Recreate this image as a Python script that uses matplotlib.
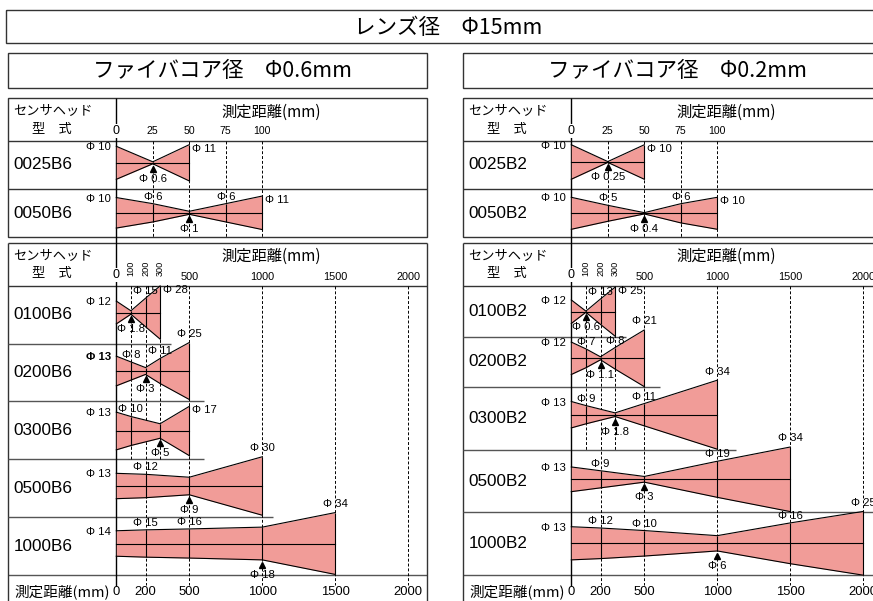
#!/usr/bin/env python3
"""Beam diameter charts for two fiber core sizes (lens diameter 15 mm)."""

import matplotlib

matplotlib.use("Agg")
import matplotlib.pyplot as plt
import numpy as np
from matplotlib.patches import Rectangle
from matplotlib.transforms import offset_copy

W, H = 873, 601
LATIN = ["Liberation Sans", "Noto Sans CJK JP"]
JP = ["Noto Sans CJK JP", "DejaVu Sans"]
PINK = "#f19c98"
BORDER = "#333333"
SPLIT = "#555555"

# ---- data ----
LENS_TITLE = "レンズ径　Φ15mm"
CORE_TITLES = ["ファイバコア径　Φ0.6mm", "ファイバコア径　Φ0.2mm"]
HEAD_LABEL = "センサヘッド"
TYPE_LABEL = "型　式"
DIST_LABEL = "測定距離(mm)"

SHORT_TICKS = [0, 25, 50, 75, 100]
LONG_TICKS = [0, 100, 200, 300, 500, 1000, 1500, 2000]
ROTATED_TICKS = [100, 200, 300]
NEAR_TICKS = [100, 300]
BOTTOM_TICKS = [0, 200, 500, 1000, 1500, 2000]

MODELS_B6 = ["0025B6", "0050B6", "0100B6", "0200B6", "0300B6", "0500B6", "1000B6"]
DIST_B6 = [
    [0, 25, 50],
    [0, 25, 50, 75, 100],
    [0, 100, 200, 300],
    [0, 100, 200, 300, 500],
    [0, 100, 300, 500],
    [0, 200, 500, 1000],
    [0, 200, 500, 1000, 1500],
]
DIAM_B6 = [
    [10, 0.6, 11],
    [10, 6, 1, 6, 11],
    [12, 1.8, 15, 28],
    [13, 8, 3, 11, 25],
    [13, 10, 5, 17],
    [13, 12, 9, 30],
    [14, 15, 16, 18, 34],
]
FOCUS_B6 = [25, 50, 100, 200, 300, 500, 1000]

MODELS_B2 = ["0025B2", "0050B2", "0100B2", "0200B2", "0300B2", "0500B2", "1000B2"]
DIST_B2 = [
    [0, 25, 50],
    [0, 25, 50, 75, 100],
    [0, 100, 200, 300],
    [0, 100, 200, 300, 500],
    [0, 100, 300, 500, 1000],
    [0, 200, 500, 1000, 1500],
    [0, 200, 500, 1000, 1500, 2000],
]
DIAM_B2 = [
    [10, 0.25, 10],
    [10, 5, 0.4, 6, 10],
    [12, 0.6, 13, 25],
    [12, 7, 1.1, 8, 21],
    [13, 9, 1.8, 11, 34],
    [13, 9, 3, 19, 34],
    [13, 12, 10, 6, 16, 25],
]
FOCUS_B2 = [25, 50, 100, 200, 300, 500, 1000]

# ---- layout (pixels) ----
PANEL_X = [8.3, 463.3]
DIVIDER_DX = 108.0
PANEL_W = 418.4
PPM_SHORT = 1.46
PPM_LONG = 0.146
UPPER_TOP, UPPER_HEAD, UPPER_SPLIT, UPPER_BOTTOM = 98.3, 140.7, 189.0, 237.0
LOWER_TOP, LOWER_HEAD, LOWER_BOTTOM = 243.3, 285.7, 575.3
LOWER_SPLITS = [[343.7, 401.0, 459.3, 517.3], [336.7, 387.0, 450.0, 512.3]]
SPLIT_END_MM = [[375, 600, 600, 1070], [378, 606, 1130, 2400]]
BEAM_CENTER = [
    [162.8, 212.8, 312.5, 371.0, 431.0, 486.0, 543.5],
    [162.0, 213.3, 311.7, 358.3, 414.7, 479.3, 543.3],
]
BEAM_SCALE = [
    [3.3, 3.05, 1.9, 2.28, 2.9, 1.95, 1.82],
    [3.45, 3.2, 1.96, 2.7, 2.03, 1.9, 2.55],
]
END_ABOVE = [
    [False, False, False, True, False, True, True],
    [False, False, False, True, True, True, True],
]
BOLD_START = [[False, False, False, True, False, False, False], [False] * 7]


def fig_rect(x, y, w, h):
    return [x / W, 1 - (y + h) / H, w / W, h / H]


def phi(d):
    return f"Φ {d:g}"


def draw_beam(fig, ax, dist, diam, focus, end_above, bold_start):
    dist = np.asarray(dist, dtype=float)
    half = np.asarray(diam, dtype=float) / 2.0
    kw = dict(color="black", lw=0.8, clip_on=False)
    ax.fill_between(dist, -half, half, color=PINK, lw=0, clip_on=False)
    ax.plot(dist, half, **kw)
    ax.plot(dist, -half, **kw)
    ax.plot([dist[0], dist[-1]], [0, 0], **kw)
    ax.vlines(dist[1:], -half[1:], half[1:], colors="black", lw=0.8, clip_on=False)

    lab = dict(textcoords="offset pixels", fontsize=8.2, family=LATIN,
               va="center", annotation_clip=False)
    last = len(dist) - 1
    for i, (x, h) in enumerate(zip(dist, half)):
        text = phi(diam[i])
        if i == 0:
            ax.annotate(text, (x, h), xytext=(-5, -1), ha="right",
                        fontweight="bold" if bold_start else "normal", **lab)
        elif x == focus:
            tri = offset_copy(ax.transData, fig=fig, y=-5, units="dots")
            ax.plot([x], [-h], marker="^", ms=5, color="black",
                    transform=tri, clip_on=False)
            ax.annotate(text, (x, -h), xytext=(0, -15), ha="center", **lab)
        elif i == last and not end_above:
            ax.annotate(text, (x, h), xytext=(3, -4), ha="left", **lab)
        elif i == last:
            ax.annotate(text, (x, h), xytext=(0, 8.5), ha="center", **lab)
        else:
            ax.annotate(text, (x, h), xytext=(0, 7), ha="center", **lab)


def hline(bg, x0, x1, y, color=BORDER, lw=1.0):
    bg.plot([x0, x1], [y, y], color=color, lw=lw, solid_capstyle="butt")


def vline(bg, x, y0, y1, color=BORDER, lw=1.0):
    bg.plot([x, x], [y0, y1], color=color, lw=lw, solid_capstyle="butt")


def draw_panel(fig, bg, p, title, models, dists, diams, focus):
    x0 = PANEL_X[p]
    xd = x0 + DIVIDER_DX
    x1 = x0 + PANEL_W
    diag_w = x1 - xd

    # title box
    bg.add_patch(Rectangle((x0, 53.3), PANEL_W, 34.4, fill=False, ec=BORDER, lw=1.0))
    bg.text(x0 + 214, 71, title, ha="center", va="center", fontsize=15.5, family=JP)

    # upper table frame
    bg.add_patch(Rectangle((x0, UPPER_TOP), PANEL_W, UPPER_BOTTOM - UPPER_TOP,
                           fill=False, ec=BORDER, lw=1.0))
    hline(bg, x0, x1, UPPER_HEAD)
    hline(bg, x0, x1, UPPER_SPLIT)
    # lower table frame
    hline(bg, x0, x1, LOWER_TOP)
    hline(bg, x0, x1, LOWER_HEAD)
    hline(bg, x0, x1, LOWER_BOTTOM, color=SPLIT)
    vline(bg, x0, LOWER_TOP, H + 2)
    vline(bg, x1, LOWER_TOP, H + 2)
    for y, end_mm in zip(LOWER_SPLITS[p], SPLIT_END_MM[p]):
        hline(bg, x0, min(xd + end_mm * PPM_LONG, x1), y, color=SPLIT)
    vline(bg, xd, UPPER_TOP, 586, color="black")

    # header texts
    for y_head, y_type, y_dist in [(110.5, 130, 112.5), (255.5, 273.5, 256.5)]:
        bg.text(x0 + 5, y_head, HEAD_LABEL, ha="left", va="center", fontsize=9.5, family=JP)
        bg.text(x0 + 44, y_type, TYPE_LABEL, ha="center", va="center", fontsize=9.5, family=JP)
        bg.text(xd + 155, y_dist, DIST_LABEL, ha="center", va="center", fontsize=11, family=JP)
    bg.text(x0 + 6, 592, DIST_LABEL, ha="left", va="center", fontsize=10.5, family=JP)

    # row labels
    rows = [(UPPER_HEAD, UPPER_SPLIT), (UPPER_SPLIT, UPPER_BOTTOM)]
    bounds = [LOWER_HEAD] + LOWER_SPLITS[p] + [LOWER_BOTTOM]
    rows += list(zip(bounds[:-1], bounds[1:]))
    for name, (ya, yb) in zip(models, rows):
        bg.text(x0 + 5, (ya + yb) / 2, name, ha="left", va="center",
                fontsize=12.3, family=LATIN)

    # grid axes (x in mm, y in pixels)
    up = fig.add_axes(fig_rect(xd, 0, diag_w, H))
    up.set_xlim(0, diag_w / PPM_SHORT)
    up.set_ylim(H, 0)
    up.axis("off")
    up.vlines(SHORT_TICKS[1:], UPPER_HEAD, UPPER_BOTTOM, colors="black",
              lw=0.7, linestyles=(0, (3, 2)))
    for t in SHORT_TICKS:
        if t == 0:
            up.text(t, 130.7, "0", ha="center", va="center", fontsize=9, family=LATIN,
                    bbox=dict(fc="white", ec="none", pad=0.6))
        else:
            up.text(t, 130.7, str(t), ha="center", va="center", fontsize=7.6, family=LATIN)

    lo = fig.add_axes(fig_rect(xd, 0, diag_w, H))
    lo.set_xlim(0, diag_w / PPM_LONG)
    lo.set_ylim(H, 0)
    lo.axis("off")
    far = [t for t in LONG_TICKS[1:] if t not in NEAR_TICKS]
    lo.vlines(NEAR_TICKS, LOWER_HEAD, LOWER_SPLITS[p][2], colors="black",
              lw=0.7, linestyles=(0, (3, 2)))
    lo.vlines(far, LOWER_HEAD, 585, colors="black", lw=0.7, linestyles=(0, (3, 2)))
    for t in LONG_TICKS:
        if t == 0:
            lo.text(t, 275, "0", ha="center", va="center", fontsize=9, family=LATIN,
                    bbox=dict(fc="white", ec="none", pad=0.6))
        elif t in ROTATED_TICKS:
            lo.text(t, 268.5, str(t), ha="center", va="center", rotation=90,
                    fontsize=6.6, family=LATIN)
        else:
            lo.text(t, 276.5, str(t), ha="center", va="center", fontsize=7.8, family=LATIN)
    for t in BOTTOM_TICKS:
        lo.text(t, 592, str(t), ha="center", va="center", fontsize=9.4, family=LATIN)

    # beams, one axes per row (x in mm, y in beam diameter mm)
    hh = 40.0
    for r in range(len(models)):
        s = BEAM_SCALE[p][r]
        ax = fig.add_axes(fig_rect(xd, BEAM_CENTER[p][r] - hh, diag_w, 2 * hh))
        ppm = PPM_SHORT if r < 2 else PPM_LONG
        ax.set_xlim(0, diag_w / ppm)
        ax.set_ylim(-hh / s, hh / s)
        ax.axis("off")
        draw_beam(fig, ax, dists[r], diams[r], focus[r], END_ABOVE[p][r], BOLD_START[p][r])


def main():
    fig = plt.figure(figsize=(W / 100, H / 100), dpi=100)
    bg = fig.add_axes([0, 0, 1, 1])
    bg.set_xlim(0, W)
    bg.set_ylim(H, 0)
    bg.axis("off")

    bg.add_patch(Rectangle((6, 10), 876, 33.3, fill=False, ec=BORDER, lw=1.0))
    bg.text(448, 28.5, LENS_TITLE, ha="center", va="center", fontsize=15.5, family=JP)

    draw_panel(fig, bg, 0, CORE_TITLES[0], MODELS_B6, DIST_B6, DIAM_B6, FOCUS_B6)
    draw_panel(fig, bg, 1, CORE_TITLES[1], MODELS_B2, DIST_B2, DIAM_B2, FOCUS_B2)

    fig.savefig("out.png", dpi=100)
    plt.close(fig)


if __name__ == "__main__":
    main()
